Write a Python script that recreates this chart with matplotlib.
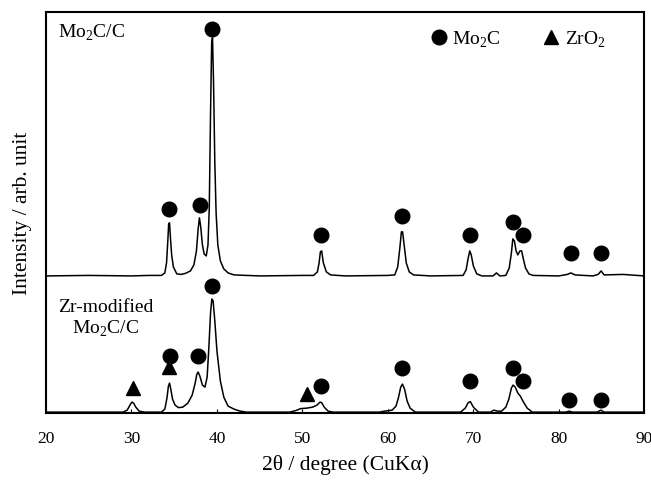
import matplotlib
matplotlib.use("Agg")
import matplotlib.pyplot as plt
from matplotlib.lines import Line2D
import numpy as np

plt.rcParams['font.family'] = ['Liberation Serif', 'DejaVu Serif']
plt.rcParams['mathtext.fontset'] = 'custom'
plt.rcParams['mathtext.rm'] = 'Liberation Serif'

# 2theta (deg) and intensity (arb.)
top_x = [20.0, 25, 30, 32, 33.5, 33.9, 34.1, 34.25, 34.35, 34.45, 34.55, 34.7, 34.9,
         35.3, 35.8, 36.3, 36.9, 37.3, 37.6, 37.8, 37.95, 38.1, 38.3, 38.5, 38.75,
         38.95, 39.1, 39.25, 39.38, 39.48, 39.6, 39.75, 39.9, 40.1, 40.4, 40.8,
         41.3, 42, 45, 50, 51.3, 51.75, 51.95, 52.1, 52.25, 52.45, 52.8, 53.3, 55,
         60, 60.8, 61.15, 61.4, 61.58, 61.72, 61.9, 62.15, 62.5, 63, 65, 68.8,
         69.15, 69.4, 69.58, 69.75, 70.0, 70.4, 71, 72.3, 72.7, 73.1, 73.8, 74.2,
         74.45, 74.62, 74.8, 75.0, 75.2, 75.45, 75.65, 75.85, 76.1, 76.5, 77, 80,
         81.0, 81.4, 81.9, 84, 84.6, 84.95, 85.3, 87.5, 90]
top_y = [137, 137.5, 137, 137.5, 137.5, 140, 150, 172, 189, 190, 176, 158, 146,
         139, 138.5, 139.5, 142, 148, 162, 184, 195, 186, 168, 159, 157,
         168, 205, 300, 370, 375, 330, 250, 200, 168, 152, 144,
         140, 138, 137, 137.5, 137.5, 141, 150, 161, 162, 150, 141, 138, 137,
         137.5, 138, 146, 165, 181, 181, 168, 150, 141, 138, 137, 137.5,
         143, 155, 162, 158, 147, 139, 137, 137, 140, 137, 137.5, 145,
         160, 174, 172, 162, 158, 162, 162, 154, 145, 139, 137.5, 137,
         138.5, 140, 138, 137, 138.5, 142, 138, 138.5, 137]

bot_x = [20, 29.0, 29.5, 29.85, 30.05, 30.25, 30.5, 30.9, 31.5, 33.5, 33.9, 34.15,
         34.32, 34.45, 34.6, 34.8, 35.1, 35.5, 36.0, 36.6, 37.1, 37.45, 37.65,
         37.8, 38.0, 38.3, 38.6, 38.85, 39.05, 39.25, 39.4, 39.55, 39.75, 40.0,
         40.4, 40.8, 41.3, 42, 42.7, 43.5, 48.5, 49.2, 49.8, 50.5, 51.2, 51.7,
         52.05, 52.25, 52.55, 53, 53.6, 59, 59.6, 60.5, 60.95, 61.25, 61.5, 61.7,
         61.95, 62.25, 62.6, 63.2, 68.5, 69.05, 69.4, 69.65, 70.0, 70.6, 72.0,
         72.4, 72.8, 73.3, 73.8, 74.15, 74.45, 74.65, 74.9, 75.2, 75.5, 75.8,
         76.3, 76.9, 80.8, 81.2, 81.6, 84.5, 84.9, 85.3, 90]
bot_y = [1, 1, 3, 8.5, 11, 10, 6, 2, 1, 1, 4, 15,
         27, 30, 24, 14, 8, 5.5, 6, 10, 18, 30, 39,
         41, 37, 28, 26, 36, 65, 100, 114, 112, 92, 62,
         32, 16, 7, 4, 2, 1, 1, 2.5, 4.5, 5, 6, 8,
         11, 10.5, 6, 2, 1, 1, 2, 3, 7, 16, 26, 29,
         24, 12, 5, 1, 1, 5, 10.5, 11.5, 6, 1, 1,
         3, 2, 2, 6, 14, 25, 28, 26, 20, 17, 12,
         5, 1, 1, 2, 1, 1, 3, 1, 1]

# peak markers
top_mo2c_x = [34.4, 38.0, 39.45, 52.15, 61.65, 69.6, 74.65, 75.75, 81.4, 84.95]
top_mo2c_y = [204, 208, 384, 178, 197, 178, 191, 178, 160, 160]
bot_mo2c_x = [34.45, 37.75, 39.45, 52.2, 61.65, 69.55, 74.65, 75.8, 81.2, 84.9]
bot_mo2c_y = [57, 57, 127, 27, 44.7, 32, 44.7, 31.7, 13, 13]
bot_zro2_x = [30.15, 34.4, 50.5]
bot_zro2_y = [24.7, 45.7, 19]

fig = plt.figure(figsize=(6.51, 4.81), dpi=100)
ax = fig.add_axes([0.0707, 0.139, 0.919, 0.835])

ax.plot(top_x, top_y, color='black', lw=1.1)
ax.plot(bot_x, bot_y, color='black', lw=1.1)

ax.plot(top_mo2c_x, top_mo2c_y, 'o', color='black', ms=10.5, ls='none')
ax.plot(bot_mo2c_x, bot_mo2c_y, 'o', color='black', ms=10.5, ls='none')
ax.plot(bot_zro2_x, bot_zro2_y, '^', color='black', ms=10, ls='none')

ax.text(21.4, 391, 'Mo$_\\mathregular{2}$C/C', fontsize=14, va='top', ha='left')
ax.text(27.0, 115, 'Zr-modified\nMo$_\\mathregular{2}$C/C', fontsize=14, va='top',
        ha='center', multialignment='center')

handles = [Line2D([], [], marker='o', color='black', ls='none', ms=10.5),
           Line2D([], [], marker='^', color='black', ls='none', ms=10)]
ax.legend(handles, ['Mo$_\\mathregular{2}$C', 'ZrO$_\\mathregular{2}$'], ncol=2,
          loc='upper right', bbox_to_anchor=(0.965, 1.0), frameon=False,
          fontsize=14, handletextpad=0.1, columnspacing=2.0, handlelength=1.2)

ax.set_xlim(20, 90)
ax.set_ylim(0, 401)
ax.set_xticks(np.arange(20, 91, 10))
ax.set_yticks([])
ax.tick_params(axis='x', direction='in', length=3, labelsize=12.5, pad=12)
for s in ax.spines.values():
    s.set_linewidth(1.5)

ax.set_xlabel('2θ / degree (CuKα)', fontsize=15.5, labelpad=6)
ax.set_ylabel('Intensity / arb. unit', fontsize=15.5, labelpad=10)

fig.savefig('out.png', dpi=100)
